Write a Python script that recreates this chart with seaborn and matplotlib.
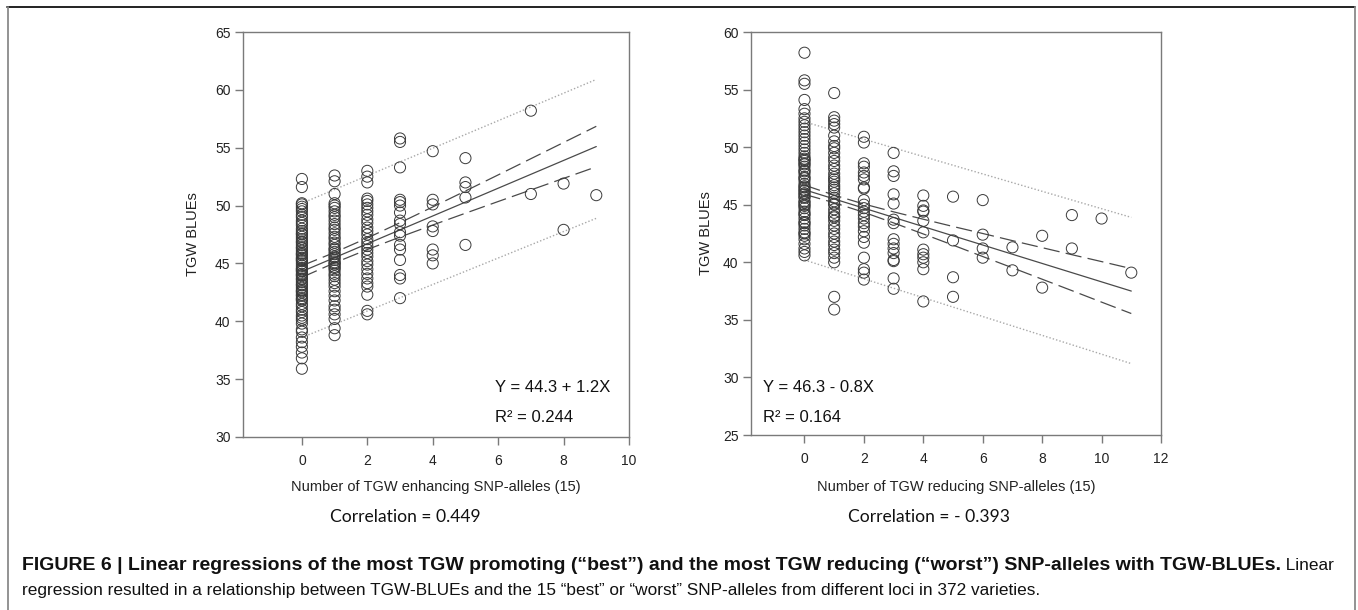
import numpy as np
import pandas as pd
import matplotlib
matplotlib.use("Agg")
import matplotlib.pyplot as plt
from matplotlib.lines import Line2D
import seaborn as sns

# ---------------- data ----------------
# Left panel: TGW BLUEs by number of TGW enhancing SNP-alleles
enh_0 = [52.3, 51.6, 50.2, 50.1, 49.9, 49.7, 49.5, 49.2, 49.0, 48.7, 48.5, 48.3, 48.0,
         47.8, 47.5, 47.3, 47.1, 46.8, 46.6, 46.3, 46.1, 45.9, 45.7, 45.4, 45.2, 45.0,
         44.8, 44.5, 44.3, 44.1, 43.9, 43.6, 43.4, 43.2, 42.9, 42.7, 42.5, 42.2, 42.0,
         41.8, 41.5, 41.3, 41.0, 40.8, 40.5, 40.3, 40.1, 39.8, 39.3, 39.1, 38.6, 38.2,
         37.8, 37.3, 36.8, 35.9, 44.6, 45.3, 43.7, 46.4, 42.6, 47.6, 44.0, 45.8, 43.1,
         41.9, 46.9, 44.4, 42.3, 45.5]
enh_1 = [52.6, 52.1, 51.0, 50.2, 50.0, 49.8, 49.5, 49.2, 49.0, 48.7, 48.4, 48.1, 47.9,
         47.6, 47.3, 47.1, 46.8, 46.6, 46.3, 46.0, 45.8, 45.5, 45.3, 45.1, 44.9, 44.6,
         44.4, 44.1, 43.9, 43.6, 43.3, 43.0, 42.6, 42.2, 41.8, 41.3, 41.0, 40.6, 40.2,
         39.4, 38.8, 45.0, 45.6, 44.7, 46.2]
enh_2 = [53.0, 52.5, 52.0, 50.6, 50.4, 50.1, 49.8, 49.5, 49.2, 48.8, 48.5, 48.1, 47.8,
         47.5, 47.1, 46.8, 46.5, 46.2, 45.9, 45.6, 45.2, 44.9, 44.5, 44.1, 43.7, 43.3,
         43.0, 42.3, 40.9, 40.6]
enh_3 = [55.8, 55.5, 53.3, 50.5, 50.3, 50.0, 49.4, 48.7, 48.4, 47.7, 47.4, 46.6, 46.2,
         45.3, 44.0, 43.7, 42.0]
enh_4 = [54.7, 50.5, 50.1, 48.2, 47.8, 46.2, 45.7, 45.0]
enh_5 = [54.1, 52.0, 51.6, 50.7, 46.6]
enh_6 = []
enh_7 = [58.2, 51.0]
enh_8 = [51.9, 47.9]
enh_9 = [50.9]
enh_columns = [enh_0, enh_1, enh_2, enh_3, enh_4, enh_5, enh_6, enh_7, enh_8, enh_9]

# Left panel regression lines
enh_band_x = [0, 1, 2, 3, 4, 5, 6, 7, 8, 9]
enh_fit = [44.3, 45.5, 46.7, 47.9, 49.1, 50.3, 51.5, 52.7, 53.9, 55.1]
enh_ci_upper = [44.8, 45.95, 47.2, 48.52, 49.88, 51.26, 52.65, 54.05, 55.45, 56.85]
enh_ci_lower = [43.8, 45.05, 46.2, 47.28, 48.32, 49.34, 50.35, 51.35, 52.35, 53.35]
enh_pi_x = [0, 9]
enh_pi_upper = [50.2, 60.9]
enh_pi_lower = [38.6, 48.9]

# Right panel: TGW BLUEs by number of TGW reducing SNP-alleles
red_0 = [58.2, 55.8, 55.5, 54.1, 53.3, 52.9, 52.5, 52.2, 51.9, 51.6, 51.3, 51.0, 50.7,
         50.4, 50.1, 49.8, 49.5, 49.2, 48.9, 48.6, 48.3, 48.0, 47.7, 47.4, 47.1, 46.8,
         46.5, 46.2, 45.9, 45.6, 45.3, 45.0, 44.7, 44.4, 44.1, 43.8, 43.5, 43.2, 42.9,
         42.6, 42.3, 42.0, 41.6, 41.2, 40.9, 40.6, 47.3, 48.5, 46.0, 49.0, 45.2, 44.2,
         47.9, 46.6, 43.4, 45.7, 48.8, 42.5, 46.3, 44.9]
red_1 = [54.7, 52.6, 52.3, 52.0, 51.7, 51.0, 50.5, 50.1, 49.9, 49.5, 49.1, 48.8, 48.4,
         48.1, 47.7, 47.4, 47.0, 46.7, 46.3, 46.0, 45.6, 45.3, 45.0, 44.6, 44.3, 43.9,
         43.6, 43.2, 42.9, 42.5, 42.2, 41.8, 41.5, 41.1, 40.8, 40.4, 40.0, 37.0, 35.9,
         46.5, 45.1, 44.0, 47.2]
red_2 = [50.9, 50.4, 48.6, 48.3, 47.8, 47.5, 47.2, 46.5, 46.4, 45.4, 45.0, 44.7, 44.4,
         44.1, 43.8, 43.4, 43.1, 42.7, 42.2, 41.7, 40.4, 39.4, 39.1, 38.5]
red_3 = [49.5, 47.9, 47.5, 45.9, 45.1, 43.7, 43.4, 42.0, 41.6, 41.2, 40.8, 40.2, 40.1,
         38.6, 37.7]
red_4 = [45.8, 44.9, 44.5, 44.4, 43.6, 42.6, 41.1, 40.7, 40.4, 40.0, 39.4, 36.6]
red_5 = [45.7, 41.9, 38.7, 37.0]
red_6 = [45.4, 42.4, 41.2, 40.4]
red_7 = [41.3, 39.3]
red_8 = [42.3, 37.8]
red_9 = [44.1, 41.2]
red_10 = [43.8]
red_11 = [39.1]
red_columns = [red_0, red_1, red_2, red_3, red_4, red_5, red_6, red_7, red_8, red_9,
               red_10, red_11]

# Right panel regression lines
red_band_x = [0, 1, 2, 3, 4, 5, 6, 7, 8, 9, 10, 11]
red_fit = [46.3, 45.5, 44.7, 43.9, 43.1, 42.3, 41.5, 40.7, 39.9, 39.1, 38.3, 37.5]
red_ci_upper = [46.7, 45.83, 45.06, 44.38, 43.74, 43.11, 42.5, 41.88, 41.27, 40.66,
                40.06, 39.45]
red_ci_lower = [45.9, 45.17, 44.34, 43.42, 42.46, 41.49, 40.5, 39.52, 38.53, 37.54,
                36.54, 35.55]
red_pi_x = [0, 11]
red_pi_upper = [52.2, 43.9]
red_pi_lower = [40.2, 31.2]

enh_xticks = [0, 2, 4, 6, 8, 10]
enh_yticks = [30, 35, 40, 45, 50, 55, 60, 65]
red_xticks = [0, 2, 4, 6, 8, 10, 12]
red_yticks = [25, 30, 35, 40, 45, 50, 55, 60]

enh_eq = "Y = 44.3 + 1.2X"
enh_r2 = "R\u00b2 = 0.244"
red_eq = "Y = 46.3 - 0.8X"
red_r2 = "R\u00b2 = 0.164"
enh_xlabel = "Number of TGW enhancing SNP-alleles (15)"
red_xlabel = "Number of TGW reducing SNP-alleles (15)"
ylabel = "TGW BLUEs"
enh_corr = "Correlation = 0.449"
red_corr = "Correlation = - 0.393"
caption_bold = ("FIGURE 6 | Linear regressions of the most TGW promoting (\u201cbest\u201d) and the "
                "most TGW reducing (\u201cworst\u201d) SNP-alleles with TGW-BLUEs.")
caption_rest1 = " Linear"
caption_line2 = ("regression resulted in a relationship between TGW-BLUEs and the 15 \u201cbest\u201d "
                 "or \u201cworst\u201d SNP-alleles from different loci in 372 varieties.")


def to_frame(columns):
    xs, ys = [], []
    for k, col in enumerate(columns):
        xs += [k] * len(col)
        ys += list(col)
    return pd.DataFrame({"count": xs, "tgw": ys})


enh_df = to_frame(enh_columns)
red_df = to_frame(red_columns)

# ---------------- styling ----------------
sns.set_theme(style="white")
plt.rcParams["font.family"] = ["Liberation Sans", "DejaVu Sans"]

W, H = 1358, 610
fig = plt.figure(figsize=(W / 100, H / 100), dpi=100)
fig.patch.set_facecolor("white")


def px_rect(l, t, r, b):
    return [l / W, 1 - b / H, (r - l) / W, (b - t) / H]


ax1 = fig.add_axes(px_rect(243, 32, 629, 437))
ax2 = fig.add_axes(px_rect(751, 32, 1161, 435))

spine_col = "#7a7a7a"
line_col = "#4a4a4a"
dot_col = "#a8a8a8"
mark_col = "#3a3a3a"


def draw_panel(ax, df, band_x, fit, ci_up, ci_lo, pi_x, pi_up, pi_lo,
               xlim, ylim, xticks, yticks):
    sns.scatterplot(data=df, x="count", y="tgw", ax=ax, s=64, marker="o",
                    facecolor="none", edgecolor=mark_col, linewidth=0.7,
                    legend=False, zorder=3)
    sns.lineplot(x=pi_x, y=pi_up, ax=ax, color=dot_col, linewidth=1.0,
                 linestyle=(0, (1, 1.5)), estimator=None, sort=False, zorder=2)
    sns.lineplot(x=pi_x, y=pi_lo, ax=ax, color=dot_col, linewidth=1.0,
                 linestyle=(0, (1, 1.5)), estimator=None, sort=False, zorder=2)
    sns.lineplot(x=band_x, y=ci_up, ax=ax, color=line_col, linewidth=0.9,
                 linestyle=(0, (13, 5)), estimator=None, sort=False, zorder=2)
    sns.lineplot(x=band_x, y=ci_lo, ax=ax, color=line_col, linewidth=0.9,
                 linestyle=(0, (13, 5)), estimator=None, sort=False, zorder=2)
    sns.lineplot(x=band_x, y=fit, ax=ax, color=line_col, linewidth=0.9,
                 estimator=None, sort=False, zorder=2)
    ax.set_xlim(*xlim)
    ax.set_ylim(*ylim)
    ax.set_xticks(xticks)
    ax.set_yticks(yticks)
    for sp in ax.spines.values():
        sp.set_visible(True)
        sp.set_color(spine_col)
        sp.set_linewidth(1.0)
    ax.tick_params(axis="both", which="major", direction="out", length=6,
                   width=1.0, color=spine_col, labelsize=10, labelcolor="#222222")
    ax.tick_params(axis="x", pad=6)
    ax.tick_params(axis="y", pad=3)
    ax.tick_params(top=False, right=False, bottom=True, left=True)
    ax.set_facecolor("white")
    ax.grid(False)


draw_panel(ax1, enh_df, enh_band_x, enh_fit, enh_ci_upper, enh_ci_lower,
           enh_pi_x, enh_pi_upper, enh_pi_lower, (-1.8, 10), (30, 65),
           enh_xticks, enh_yticks)
draw_panel(ax2, red_df, red_band_x, red_fit, red_ci_upper, red_ci_lower,
           red_pi_x, red_pi_upper, red_pi_lower, (-1.8, 12), (25, 60),
           red_xticks, red_yticks)

label_col = "#222222"
ax1.set_xlabel(enh_xlabel, fontsize=10.5, color=label_col)
ax1.set_ylabel(ylabel, fontsize=10.5, color=label_col)
ax2.set_xlabel(red_xlabel, fontsize=10.5, color=label_col)
ax2.set_ylabel(ylabel, fontsize=10.5, color=label_col)
ax1.xaxis.set_label_coords(0.5, (437 - 480) / 405)
ax1.yaxis.set_label_coords((200 - 243) / 386, 0.5)
ax2.xaxis.set_label_coords(0.5, (435 - 480) / 403)
ax2.yaxis.set_label_coords((713 - 751) / 410, 0.5)


def ftext(x, y, s, **kw):
    return fig.text(x / W, 1 - y / H, s, **kw)


eq_size = 12
ftext(495, 388, enh_eq, fontsize=eq_size, va="center", ha="left", color="#111111")
ftext(495, 418, enh_r2, fontsize=eq_size, va="center", ha="left", color="#111111")
ftext(763, 387, red_eq, fontsize=eq_size, va="center", ha="left", color="#111111")
ftext(763, 418, red_r2, fontsize=eq_size, va="center", ha="left", color="#111111")

corr_font = ["Lato", "DejaVu Sans"]
ftext(330, 517, enh_corr, fontsize=12.6, va="center", ha="left",
      family=corr_font, color="#111111")
ftext(848, 517, red_corr, fontsize=12.6, va="center", ha="left",
      family=corr_font, color="#111111")

t_bold = ftext(22, 565, caption_bold, fontsize=14.0, fontweight="bold",
               va="center", ha="left", color="#111111")
fig.canvas.draw()
bb = t_bold.get_window_extent(renderer=fig.canvas.get_renderer())
fig.text(bb.x1 / W, 1 - 565 / H, caption_rest1, fontsize=12.4, va="center",
         ha="left", color="#111111")
ftext(22, 591, caption_line2, fontsize=12.4, va="center", ha="left",
      color="#111111")

# outer frame of the figure panel
fig.add_artist(Line2D([7 / W, 1355 / W], [1 - 7 / H, 1 - 7 / H],
                      transform=fig.transFigure, color="#111111", linewidth=1.3))
fig.add_artist(Line2D([7.5 / W, 7.5 / W], [1 - 7 / H, 0],
                      transform=fig.transFigure, color="#8a8a8a", linewidth=1.3))
fig.add_artist(Line2D([1355 / W, 1355 / W], [1 - 7 / H, 0],
                      transform=fig.transFigure, color="#8a8a8a", linewidth=1.3))

fig.savefig("out.png", dpi=100, facecolor="white")
